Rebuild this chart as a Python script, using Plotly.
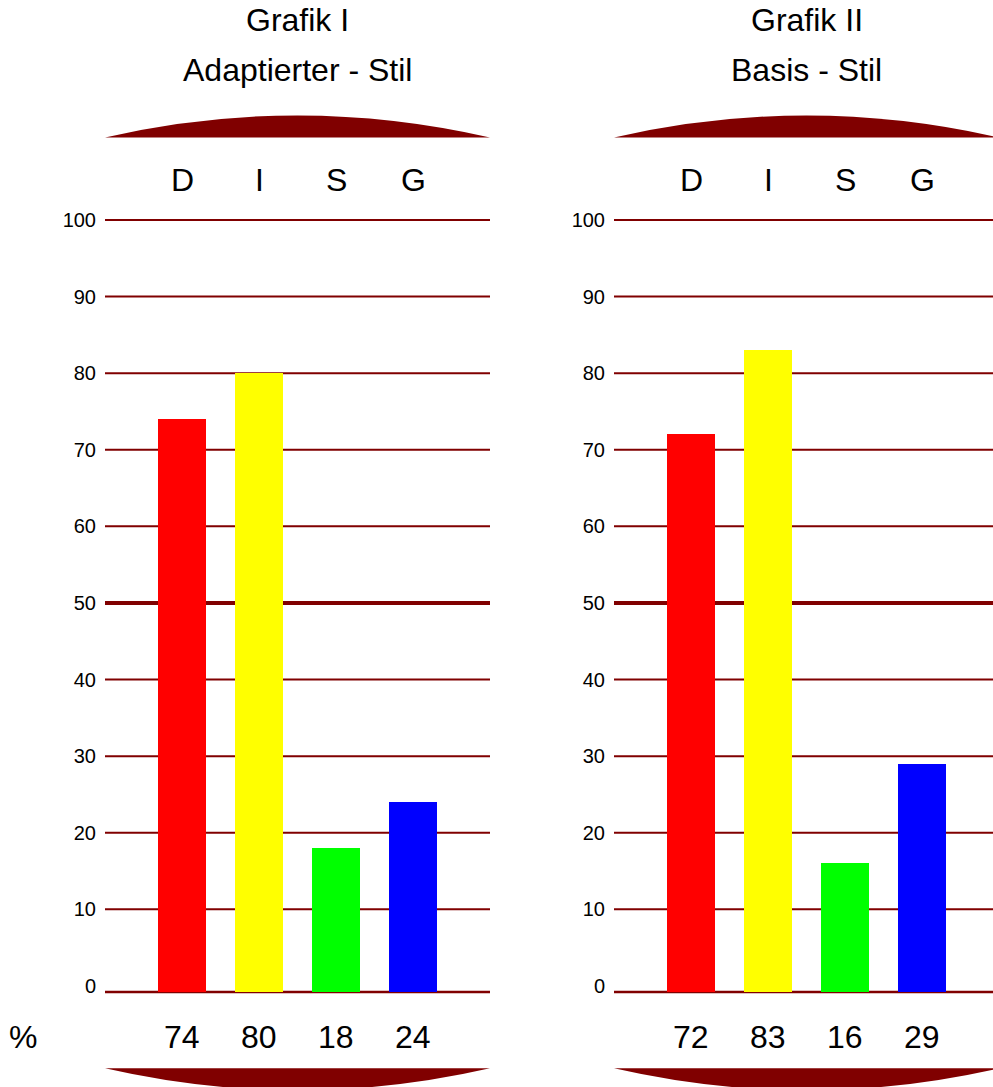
import plotly.graph_objects as go

# ---- data ----
categories = ["D", "I", "S", "G"]
values_adapted = [74, 80, 18, 24]
values_basic = [72, 83, 16, 29]
bar_colors = ["#FF0000", "#FFFF00", "#00FF00", "#0000FF"]
tick_values = [0, 10, 20, 30, 40, 50, 60, 70, 80, 90, 100]
panel_titles = [("Grafik I", "Adaptierter - Stil"), ("Grafik II", "Basis - Stil")]

# ---- layout constants ----
W, H = 993, 1087
DARK_RED = "#800000"
FONT = "Liberation Sans, Arial, sans-serif"
TEXT_SIZE = 32
TICK_SIZE = 20
BASE = -0.8           # baseline sits slightly below the zero mark
PX_PER_UNIT = 7.659   # vertical scale
ZERO_PX = 985.9       # pixel row of value 0
Y_RANGE = [-3, 103]
PANEL_W = 385
PANELS = [105, 614]   # left edge of each panel in pixels
SLOT = 77             # pixel spacing between bars


def fx(p):
    return p / W


def fy(p):
    return 1 - p / H


def vpx(v):
    return ZERO_PX - PX_PER_UNIT * v


y_dom = [fy(vpx(Y_RANGE[0])), fy(vpx(Y_RANGE[1]))]

fig = go.Figure()
shapes = []
annotations = []

for k, (left, vals, titles) in enumerate(zip(PANELS, [values_adapted, values_basic], panel_titles)):
    right = min(left + PANEL_W, W)
    xa = "x" if k == 0 else "x2"
    ya = "y" if k == 0 else "y2"
    xdom = [fx(left), fx(right)]
    xrange = [-1, -1 + (right - left) / SLOT]
    axis_sfx = "" if k == 0 else "2"

    fig.add_trace(go.Bar(
        x=categories, y=[v - BASE for v in vals], base=BASE,
        marker=dict(color=bar_colors, line=dict(width=0)),
        width=48 / SLOT, xaxis=xa, yaxis=ya, showlegend=False,
        hovertext=[str(v) for v in vals], hoverinfo="text",
    ))

    fig.layout["xaxis" + axis_sfx] = dict(
        domain=xdom, range=xrange, type="category", categoryorder="array",
        categoryarray=categories, visible=False, anchor=ya, fixedrange=True,
    )
    fig.layout["yaxis" + axis_sfx] = dict(
        domain=y_dom, range=Y_RANGE, anchor=xa, tickmode="array",
        tickvals=tick_values, ticktext=[str(t) for t in tick_values],
        showgrid=False, zeroline=False, showline=False, ticks="",
        ticklabelstandoff=8, tickfont=dict(family=FONT, size=TICK_SIZE, color="black"),
        fixedrange=True,
    )

    # horizontal rules
    for t in tick_values:
        if t == 0:
            continue
        shapes.append(dict(
            type="line", xref=xa + " domain", yref=ya, x0=0, x1=1, y0=t, y1=t,
            line=dict(color=DARK_RED, width=4 if t == 50 else 2), layer="below",
        ))
    shapes.append(dict(
        type="line", xref=xa + " domain", yref=ya, x0=0, x1=1, y0=BASE, y1=BASE,
        line=dict(color=DARK_RED, width=2.5), layer="below",
    ))

    # decorative caps above and below
    x0, x1 = left, left + PANEL_W
    xc = (x0 + x1) / 2
    top_flat, bot_flat, bulge = 137.5, 1068.3, 44
    shapes.append(dict(
        type="path", xref="paper", yref="paper",
        path=f"M {fx(x0)},{fy(top_flat)} Q {fx(xc)},{fy(top_flat - bulge)} {fx(x1)},{fy(top_flat)} Z",
        fillcolor=DARK_RED, line=dict(width=0),
    ))
    shapes.append(dict(
        type="path", xref="paper", yref="paper",
        path=f"M {fx(x0)},{fy(bot_flat)} Q {fx(xc)},{fy(bot_flat + bulge)} {fx(x1)},{fy(bot_flat)} Z",
        fillcolor=DARK_RED, line=dict(width=0),
    ))

    # titles
    for txt, yc in zip(titles, [20, 70]):
        annotations.append(dict(
            text=txt, xref="paper", yref="paper", x=fx(xc), y=fy(yc),
            xanchor="center", yanchor="middle", showarrow=False,
            font=dict(family=FONT, size=TEXT_SIZE, color="black"),
        ))

    # category letters and value labels
    for c, v in zip(categories, vals):
        annotations.append(dict(
            text=c, xref=xa, yref="paper", x=c, y=fy(180),
            xanchor="center", yanchor="middle", showarrow=False,
            font=dict(family=FONT, size=TEXT_SIZE, color="black"),
        ))
        annotations.append(dict(
            text=str(v), xref=xa, yref="paper", x=c, y=fy(1037),
            xanchor="center", yanchor="middle", showarrow=False,
            font=dict(family=FONT, size=TEXT_SIZE, color="black"),
        ))

annotations.append(dict(
    text="%", xref="paper", yref="paper", x=fx(23), y=fy(1037),
    xanchor="center", yanchor="middle", showarrow=False,
    font=dict(family=FONT, size=TEXT_SIZE, color="black"),
))

fig.update_layout(
    width=W, height=H, autosize=False,
    margin=dict(l=0, r=0, t=0, b=0, pad=0),
    paper_bgcolor="white", plot_bgcolor="rgba(0,0,0,0)",
    shapes=shapes, annotations=annotations, bargap=0,
)

fig.write_html("out.html", config={"displayModeBar": False})
